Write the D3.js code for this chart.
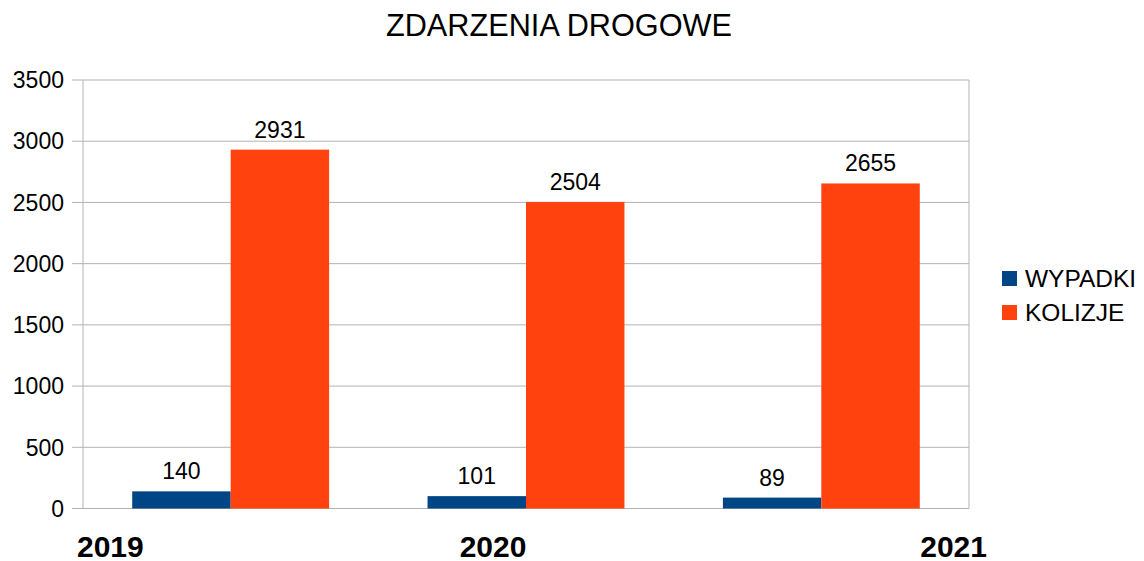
<!DOCTYPE html>
<html><head><meta charset="utf-8">
<script src="https://cdn.jsdelivr.net/npm/d3@7"></script>
<style>body{margin:0;background:#fff}svg{display:block}text{font-family:"Liberation Sans",Arial,sans-serif;fill:#000}</style>
</head><body>
<svg id="c" width="1144" height="561"></svg>
<script>
const title = "ZDARZENIA DROGOWE";
const categories = ["2019", "2020", "2021"];
const seriesNames = ["WYPADKI", "KOLIZJE"];
const wypadki = [140, 101, 89];
const kolizje = [2931, 2504, 2655];
const yTicks = [0, 500, 1000, 1500, 2000, 2500, 3000, 3500];
const colors = ["#004586", "#ff420e"];

const svg = d3.select("#c");
const m = {l: 83, r: 969, t: 80, b: 508.5};
const x = d3.scaleBand().domain(categories).range([m.l, m.r]).paddingInner(0).paddingOuter(0);
const y = d3.scaleLinear().domain([0, 3500]).range([m.b, m.t]);
const xs = d3.scaleBand().domain(seriesNames).range([0, x.bandwidth()]).paddingOuter(0.5).paddingInner(0);

// gridlines
svg.append("g").selectAll("line").data(yTicks).join("line")
  .attr("x1", m.l - 11).attr("x2", m.r).attr("y1", d => y(d)).attr("y2", d => y(d))
  .attr("stroke", "#b3b3b3").attr("stroke-width", 1);
// axis lines
svg.append("line").attr("x1", m.l).attr("x2", m.l).attr("y1", m.t).attr("y2", m.b).attr("stroke", "#b3b3b3");
svg.append("line").attr("x1", m.r).attr("x2", m.r).attr("y1", m.t).attr("y2", m.b).attr("stroke", "#b3b3b3");

// y labels
svg.append("g").selectAll("text").data(yTicks).join("text")
  .attr("x", m.l - 19).attr("y", d => y(d)).attr("dy", "0.36em")
  .attr("text-anchor", "end").style("font-size", "23px").text(d => d);

const data = categories.map((c, i) => ({c, vals: [wypadki[i], kolizje[i]]}));
const g = svg.append("g").selectAll("g").data(data).join("g")
  .attr("transform", d => `translate(${x(d.c)},0)`);
g.selectAll("rect").data(d => d.vals.map((v, j) => ({v, s: seriesNames[j], j}))).join("rect")
  .attr("x", d => xs(d.s)).attr("width", xs.bandwidth())
  .attr("y", d => y(d.v)).attr("height", d => y(0) - y(d.v))
  .attr("fill", d => colors[d.j]);
g.selectAll("text").data(d => d.vals.map((v, j) => ({v, s: seriesNames[j], j}))).join("text")
  .attr("x", d => xs(d.s) + xs.bandwidth() / 2).attr("y", d => y(d.v) - 12)
  .attr("text-anchor", "middle").style("font-size", "23px").text(d => d.v);

// x labels (odd alignment as in reference)
const anchors = ["start", "middle", "end"];
const offs = [-6, -33, 18];
svg.append("g").selectAll("text").data(categories).join("text")
  .attr("x", (d, i) => (i === 0 ? m.l : i === 1 ? x(d) + x.bandwidth() / 2 : m.r) + offs[i])
  .attr("y", 557).attr("text-anchor", (d, i) => anchors[i])
  .style("font-size", "30px").style("font-weight", "bold").text(d => d);

// title
svg.append("text").attr("x", 559).attr("y", 36).attr("text-anchor", "middle")
  .style("font-size", "30.7px").text(title);

// legend
const lg = svg.append("g").selectAll("g").data(seriesNames).join("g")
  .attr("transform", (d, i) => `translate(1002,${271 + i * 34})`);
lg.append("rect").attr("width", 15).attr("height", 15).attr("fill", (d, i) => colors[i]);
lg.append("text").attr("x", 23).attr("y", 7.5).attr("dy", "0.36em").style("font-size", "24.5px").text(d => d);
</script>
</body></html>
